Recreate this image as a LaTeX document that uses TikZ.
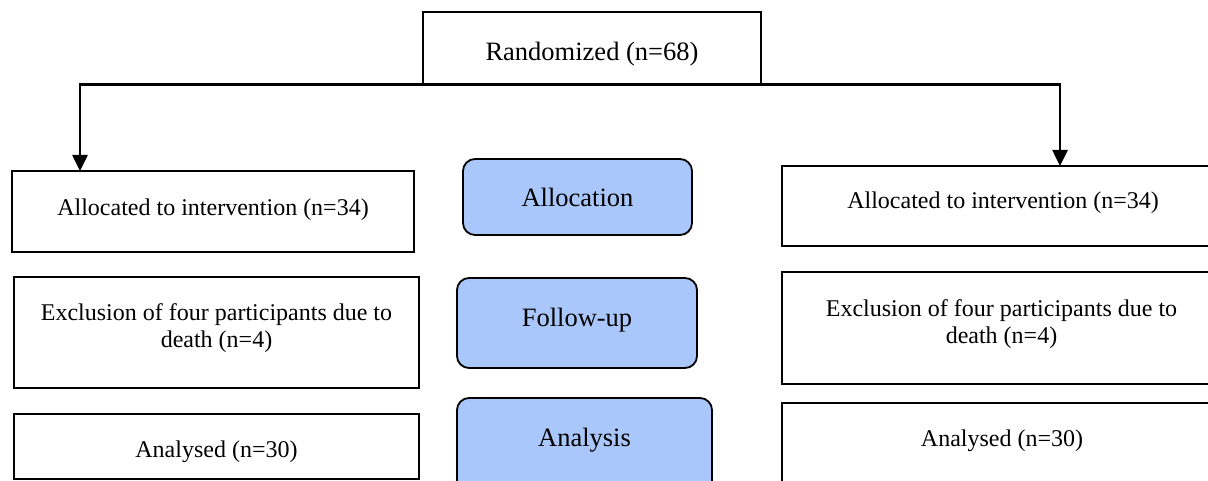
\documentclass[tikz,border=0pt]{standalone}
\usepackage{fontspec}
\setmainfont{Liberation Serif}
\usetikzlibrary{arrows.meta,calc}
\definecolor{stageblue}{RGB}{169,199,250}

\begin{document}
\begin{tikzpicture}[x=1pt, y=-1pt,
    box/.style={draw, line width=1.5pt, inner sep=0pt},
    stage/.style={draw, line width=1.8pt, rounded corners=12pt, fill=stageblue, inner sep=0pt},
    txt/.style={align=center, inner sep=0pt, font=\fontsize{24}{27}\selectfont},
    big/.style={inner sep=0pt, font=\fontsize{26.5}{30}\selectfont},
    flow/.style={line width=2.6pt, -{Triangle[length=16pt, width=15pt]}}]

  \clip (0,0) rectangle (1208,481);

  % randomisation
  \node[box, minimum width=338pt, minimum height=72pt] (rand) at (592,48) {};
  \node[big] (randtxt) at ($(rand.north)+(0,43)$) {Randomized (n=68)};

  % left arm
  \node[box, minimum width=402pt, minimum height=81pt] (allocL) at (213,211.5) {};
  \node[box, minimum width=405pt, minimum height=111pt] (exclL) at (216.5,332.5) {};
  \node[box, minimum width=405pt, minimum height=65pt] (analL) at (216.5,446.5) {};
  \node[txt] (allocLtxt) at ($(allocL.north)+(0,39)$) {Allocated to intervention (n=34)};
  \node[txt] (exclLtxt) at ($(exclL.north)+(0,52)$) {Exclusion of four participants due to\\death (n=4)};
  \node[txt] (analLtxt) at ($(analL.north)+(0,39)$) {Analysed (n=30)};

  % stages
  \node[stage, minimum width=229pt, minimum height=76pt] (allocS) at (577.5,197) {};
  \node[stage, minimum width=240pt, minimum height=90pt] (followS) at (577,323) {};
  \node[stage, minimum width=255pt, minimum height=95pt] (analS) at (584.5,445.5) {};
  \node[big] (allocStxt) at ($(allocS.north)+(0,39)$) {Allocation};
  \node[big] (followStxt) at ($(followS.north)+(0,43)$) {Follow-up};
  \node[big] (analStxt) at ($(analS.north)+(0,43)$) {Analysis};

  % right arm
  \node[box, minimum width=442pt, minimum height=80pt] (allocR) at (1003,206) {};
  \node[box, minimum width=439pt, minimum height=112pt] (exclR) at (1001.5,328) {};
  \node[box, minimum width=440pt, minimum height=97pt] (analR) at (1002,451.5) {};
  \node[txt] (allocRtxt) at ($(allocR.north)+(0,37)$) {Allocated to intervention (n=34)};
  \node[txt] (exclRtxt) at ($(exclR.north)+(0,53)$) {Exclusion of four participants due to\\death (n=4)};
  \node[txt] (analRtxt) at ($(analR.north)+(0,39)$) {Analysed (n=30)};

  % arrows
  \coordinate (dropL) at (80,171);
  \coordinate (dropR) at (1060,166);
  \draw[flow] (rand.south) -| (dropL);
  \draw[flow] (rand.south) -| (dropR);
\end{tikzpicture}
\end{document}
